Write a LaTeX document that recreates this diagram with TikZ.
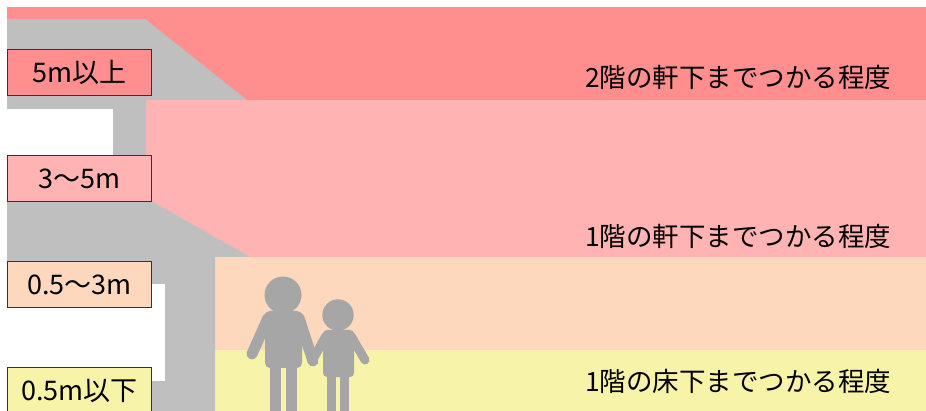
\documentclass[tikz,border=0pt]{standalone}
\usepackage{fontspec}
\setmainfont{Noto Sans CJK JP}
\usepackage{tikz}
\definecolor{floodred}{RGB}{255,143,143}
\definecolor{floodpink}{RGB}{255,179,179}
\definecolor{floodpeach}{RGB}{253,216,188}
\definecolor{floodyellow}{RGB}{247,243,168}
\definecolor{housegray}{RGB}{191,191,191}
\definecolor{persongray}{RGB}{166,166,166}

\begin{document}
\begin{tikzpicture}[
	x=1pt, y=-1pt,
	font=\fontsize{26.5}{30}\selectfont,
	tagbox/.style={rectangle, draw=black!80, line width=1.1pt, minimum width=144pt, minimum height=46pt, inner sep=0pt, anchor=north west, font=\fontsize{27}{30}\selectfont},
	note/.style={anchor=west, inner sep=0pt},
	limb/.style={draw=persongray, line width=11pt, line cap=round},
	kidlimb/.style={draw=persongray, line width=9pt, line cap=round},
]
\useasboundingbox (0,0) rectangle (926,411);

% water depth bands
\fill[floodred]    (7,7)   rectangle (926,100);
\fill[floodpink]   (7,100) rectangle (926,257);
\fill[floodpeach]  (7,257) rectangle (926,350);
\fill[floodyellow] (7,350) rectangle (926,411);

% house section with two roofs
\fill[housegray] (7,19) -- (145,19) -- (247,100) -- (146,100) -- (146,198) -- (250,257)
	-- (215,257) -- (215,411) -- (7,411) -- cycle;
\fill[white] (7,109) rectangle (113,170);
\fill[white] (0,284) rectangle (165,381);

% adult
\fill[persongray] (283,295) circle[radius=18.5];
\draw[limb] (268,318) -- (252,354);
\draw[limb] (299,318) -- (313,361);
\fill[persongray, rounded corners=5pt] (265,311) rectangle (302,368);
\fill[persongray] (270,360) rectangle (281,411);
\fill[persongray] (286,360) rectangle (297,411);

% child
\fill[persongray] (338,315) circle[radius=15.7];
\draw[kidlimb] (326,336) -- (312,361);
\draw[kidlimb] (351,336) -- (365,360);
\fill[persongray, rounded corners=4pt] (323,330) rectangle (354,377);
\fill[persongray] (327,370) rectangle (336,411);
\fill[persongray] (340,370) rectangle (349,411);

% depth tags
\node[tagbox, fill=floodred]    (over5)   at (7,49)  {5m以上};
\node[tagbox, fill=floodpink]   (m3to5)   at (7,155) {3～5m};
\node[tagbox, fill=floodpeach]  (m05to3)  at (7,261) {0.5～3m};
\node[tagbox, fill=floodyellow] (under05) at (7,367) {0.5m以下};

\node[note] (eaves2) at (585,77)  {2階の軒下までつかる程度};
\node[note] (eaves1) at (585,236) {1階の軒下までつかる程度};
\node[note] (floor1) at (585,381) {1階の床下までつかる程度};
\end{tikzpicture}
\end{document}
